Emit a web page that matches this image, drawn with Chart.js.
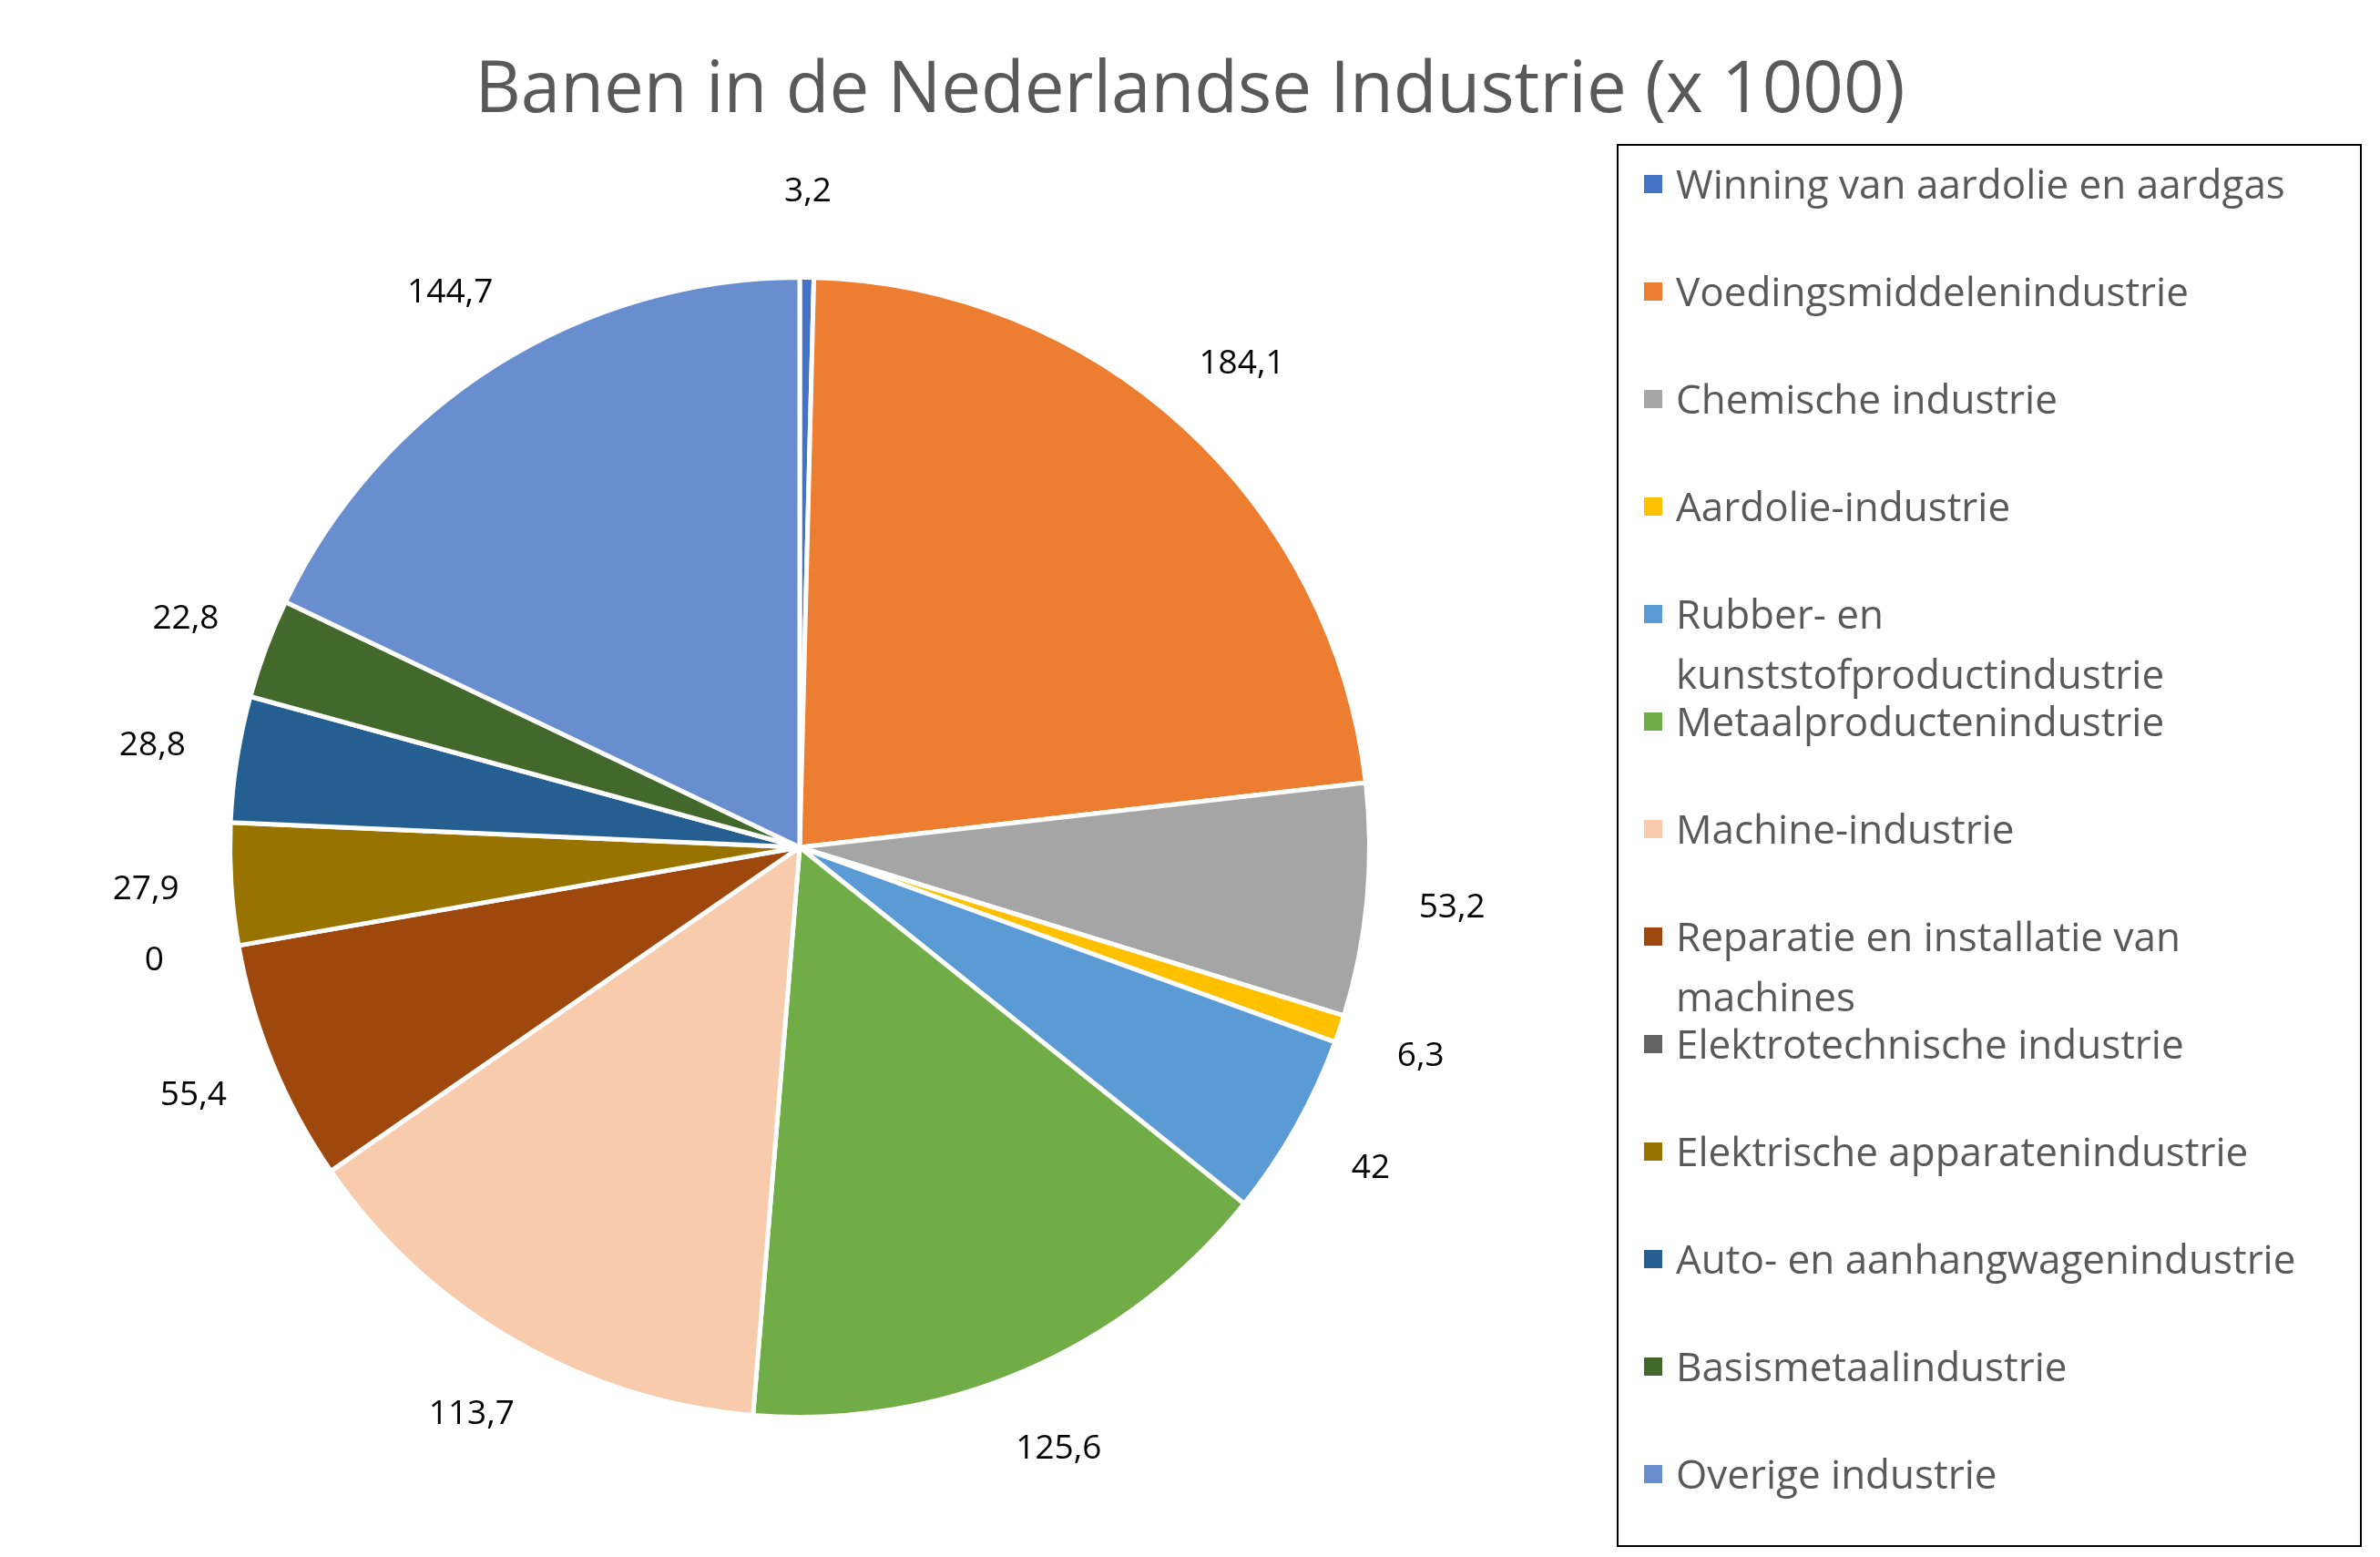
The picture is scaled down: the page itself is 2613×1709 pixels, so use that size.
<!DOCTYPE html>
<html><head><meta charset="utf-8">
<script src="https://cdn.jsdelivr.net/npm/chart.js@4/dist/chart.umd.min.js"></script>
<style>
html,body{margin:0;padding:0;background:#fff;}
#wrap{position:relative;width:2613px;height:1709px;}
#title{position:absolute;left:0;width:2613px;top:40px;text-align:center;font-family:"Open Sans",sans-serif;font-size:78px;color:#595959;}
#legend{position:absolute;left:1775px;top:158px;width:818px;height:1540px;border:2px solid #000;box-sizing:border-box;}
.it{position:absolute;left:0;font-family:"Open Sans",sans-serif;font-size:44px;color:#595959;line-height:66px;}
.sw{position:absolute;left:28px;top:24px;width:20px;height:20px;}
.tx{position:absolute;left:63px;top:0;white-space:nowrap;}
</style></head><body>
<div id="wrap"><canvas id="c" width="2613" height="1709"></canvas>
<div id="title">Banen in de Nederlandse Industrie (x 1000)</div>
<div id="legend"></div></div>
<script>
const categories=["Winning van aardolie en aardgas","Voedingsmiddelenindustrie","Chemische industrie","Aardolie-industrie","Rubber- en\nkunststofproductindustrie","Metaalproductenindustrie","Machine-industrie","Reparatie en installatie van\nmachines","Elektrotechnische industrie","Elektrische apparatenindustrie","Auto- en aanhangwagenindustrie","Basismetaalindustrie","Overige industrie"];
const values=[3.2,184.1,53.2,6.3,42,125.6,113.7,55.4,0,27.9,28.8,22.8,144.7];
const colors=["#4472C4","#ED7D31","#A5A5A5","#FFC000","#5B9BD5","#70AD47","#F8CBAD","#9E480E","#636363","#997300","#255E91","#43682B","#698ED0"];
const lg=document.getElementById('legend');
categories.forEach((c,i)=>{
  const d=document.createElement('div');d.className='it';d.style.top=(8+i*118)+'px';
  d.innerHTML='<div class="sw" style="background:'+colors[i]+'"></div><div class="tx">'+c.replace('\n','<br>')+'</div>';
  lg.appendChild(d);
});
const labelPlugin={id:'lbl',afterDatasetsDraw(ch){
  const ctx=ch.ctx;const meta=ch.getDatasetMeta(0);
  ctx.save();ctx.font='37px "Open Sans", sans-serif';ctx.fillStyle='#000';ctx.textAlign='center';ctx.textBaseline='middle';
  meta.data.forEach((a,i)=>{
    const ang=(a.startAngle+a.endAngle)/2;const r=a.outerRadius*1.15;
    ctx.fillText(String(values[i]).replace('.',','),a.x+Math.cos(ang)*r,a.y+Math.sin(ang)*r);
  });ctx.restore();}};
new Chart(document.getElementById('c'),{type:'pie',
 data:{labels:categories,datasets:[{data:values,backgroundColor:colors,borderColor:'#fff',borderWidth:5}]},
 options:{responsive:false,animation:false,layout:{padding:{left:250,right:1107,top:302,bottom:151}},
  plugins:{legend:{display:false},tooltip:{enabled:false}}},
 plugins:[labelPlugin]});
</script></body></html>
